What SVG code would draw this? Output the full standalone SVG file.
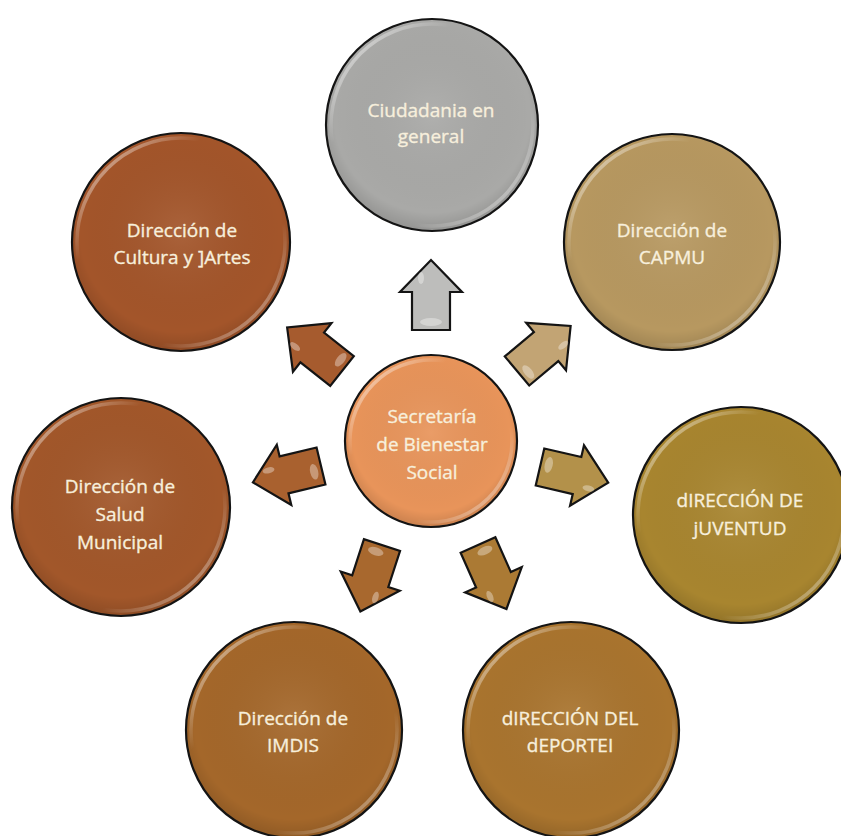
<svg xmlns="http://www.w3.org/2000/svg" width="841" height="836" viewBox="0 0 841 836">
<defs>
<linearGradient id="rim" x1="0" y1="0" x2="1" y2="1">
<stop offset="0" stop-color="#fff" stop-opacity="0.75"/>
<stop offset="0.3" stop-color="#fff" stop-opacity="0"/>
<stop offset="0.7" stop-color="#fff" stop-opacity="0"/>
<stop offset="1" stop-color="#fff" stop-opacity="0.6"/>
</linearGradient>
<radialGradient id="shade" cx="0.5" cy="0.45" r="0.55">
<stop offset="0" stop-color="#fff" stop-opacity="0.08"/>
<stop offset="0.85" stop-color="#000" stop-opacity="0"/>
<stop offset="1" stop-color="#000" stop-opacity="0.12"/>
</radialGradient>
<path id="arr" d="M0,-19 L38,-19 L38,-31 L70,0 L38,31 L38,19 L0,19 Z"/>
</defs>
<style>
.c{stroke:#141414;stroke-width:2.2}
.rim{fill:none;stroke:url(#rim);stroke-width:3.5}
.sh{fill:url(#shade)}
.t{font-family:"Open Sans","Liberation Sans",sans-serif;font-size:19px;fill:#f7efdc;stroke:#f7efdc;stroke-width:0.35;text-anchor:middle}
.a{stroke:#141414;stroke-width:2.2;stroke-linejoin:miter}
.hl{fill:#fff;opacity:0.35}
</style>
<rect width="841" height="836" fill="#fff"/>

<g id="connectors">
<g transform="translate(431,330) rotate(-90)"><use href="#arr" class="a" fill="#bdbdbb"/><ellipse class="hl" cx="8" cy="0" rx="4" ry="11"/><ellipse class="hl" cx="52" cy="-10" rx="6" ry="3"/></g>
<g transform="translate(342,371) rotate(-141.6)"><use href="#arr" class="a" fill="#a65b2e"/><ellipse class="hl" cx="8" cy="8" rx="4" ry="8"/><ellipse class="hl" cx="52" cy="-10" rx="6" ry="3"/></g>
<g transform="translate(517,371) rotate(-40)"><use href="#arr" class="a" fill="#c2a474"/><ellipse class="hl" cx="8" cy="8" rx="4" ry="8"/><ellipse class="hl" cx="52" cy="10" rx="6" ry="3"/></g>
<g transform="translate(321,466) rotate(166.5)"><use href="#arr" class="a" fill="#a9612f"/><ellipse class="hl" cx="8" cy="-4" rx="4" ry="8"/><ellipse class="hl" cx="52" cy="8" rx="6" ry="3"/></g>
<g transform="translate(540,467) rotate(13)"><use href="#arr" class="a" fill="#b3914a"/><ellipse class="hl" cx="8" cy="-4" rx="4" ry="8"/><ellipse class="hl" cx="52" cy="10" rx="6" ry="3"/></g>
<g transform="translate(382,545) rotate(108)"><use href="#arr" class="a" fill="#a8682e"/><ellipse class="hl" cx="8" cy="4" rx="4" ry="8"/><ellipse class="hl" cx="52" cy="-10" rx="6" ry="3"/></g>
<g transform="translate(478,545) rotate(66)"><use href="#arr" class="a" fill="#ab7a34"/><ellipse class="hl" cx="8" cy="-4" rx="4" ry="8"/><ellipse class="hl" cx="52" cy="10" rx="6" ry="3"/></g>
</g>

<g id="n-ciudadania">
<circle class="c" cx="432" cy="125" r="106" fill="#a9a9a7"/><circle class="sh" cx="432" cy="125" r="105"/><circle class="rim" cx="432" cy="125" r="101"/>
<text class="t" x="431" y="117">Ciudadania en</text><text class="t" x="431" y="143">general</text>
</g>

<g id="n-cultura">
<circle class="c" cx="181" cy="242" r="109" fill="#a3552a"/><circle class="sh" cx="181" cy="242" r="108"/><circle class="rim" cx="181" cy="242" r="104"/>
<text class="t" x="182" y="237">Dirección de</text><text class="t" x="182" y="264">Cultura y ]Artes</text>
</g>

<g id="n-capmu">
<circle class="c" cx="672" cy="242" r="108" fill="#b79860"/><circle class="sh" cx="672" cy="242" r="107"/><circle class="rim" cx="672" cy="242" r="103"/>
<text class="t" x="672" y="237">Dirección de</text><text class="t" x="672" y="264">CAPMU</text>
</g>

<g id="n-salud">
<circle class="c" cx="121" cy="507" r="109" fill="#a2572a"/><circle class="sh" cx="121" cy="507" r="108"/><circle class="rim" cx="121" cy="507" r="104"/>
<text class="t" x="120" y="493">Dirección de</text><text class="t" x="120" y="521">Salud</text><text class="t" x="120" y="549">Municipal</text>
</g>

<g id="n-juventud">
<circle class="c" cx="741" cy="515" r="108" fill="#a8852f"/><circle class="sh" cx="741" cy="515" r="107"/><circle class="rim" cx="741" cy="515" r="103"/>
<text class="t" x="740" y="507">dIRECCIÓN DE</text><text class="t" x="740" y="535">jUVENTUD</text>
</g>

<g id="n-imdis">
<circle class="c" cx="294" cy="730" r="108" fill="#a4672a"/><circle class="sh" cx="294" cy="730" r="107"/><circle class="rim" cx="294" cy="730" r="103"/>
<text class="t" x="293" y="725">Dirección de</text><text class="t" x="293" y="752">IMDIS</text>
</g>

<g id="n-deporte">
<circle class="c" cx="571" cy="730" r="108" fill="#a9742e"/><circle class="sh" cx="571" cy="730" r="107"/><circle class="rim" cx="571" cy="730" r="103"/>
<text class="t" x="570" y="725">dIRECCIÓN DEL</text><text class="t" x="570" y="752">dEPORTEI</text>
</g>

<g id="n-secretaria">
<circle class="c" cx="431" cy="441" r="86" fill="#e8945a"/><circle class="sh" cx="431" cy="441" r="85"/><circle class="rim" cx="431" cy="441" r="81"/>
<text class="t" x="432" y="423">Secretaría</text><text class="t" x="432" y="451">de Bienestar</text><text class="t" x="432" y="479">Social</text>
</g>
</svg>
